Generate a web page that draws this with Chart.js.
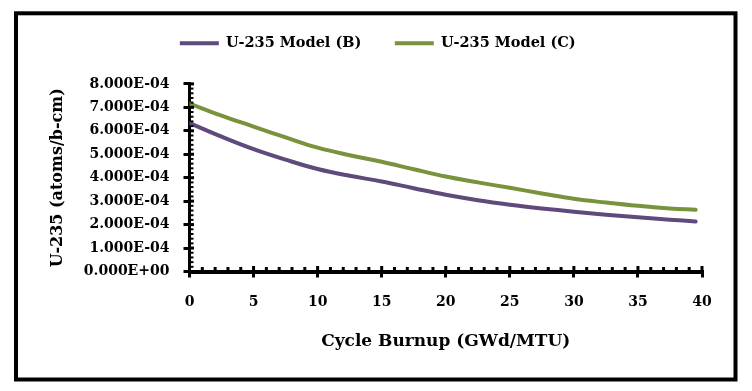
<!DOCTYPE html>
<html>
<head>
<meta charset="utf-8">
<script src="https://cdn.jsdelivr.net/npm/chart.js@4.4.1/dist/chart.umd.min.js"></script>
<style>
  html, body { margin: 0; padding: 0; background: #ffffff; }
  #wrap { width: 752px; height: 391px; position: relative; }
</style>
</head>
<body>
<div id="wrap"><canvas id="c" width="752" height="391"></canvas></div>
<script>
// ---- data ----
const burnup = [0, 2.5, 5, 7.5, 10, 12.5, 15, 17.5, 20, 22.5, 25, 27.5, 30, 32.5, 35, 37.5, 39.5];
const modelB = [6.33e-4, 5.75e-4, 5.22e-4, 4.77e-4, 4.37e-4, 4.08e-4, 3.84e-4, 3.55e-4, 3.27e-4, 3.04e-4, 2.85e-4, 2.69e-4, 2.55e-4, 2.42e-4, 2.31e-4, 2.21e-4, 2.13e-4];
const modelC = [7.16e-4, 6.65e-4, 6.18e-4, 5.72e-4, 5.28e-4, 4.96e-4, 4.68e-4, 4.36e-4, 4.05e-4, 3.80e-4, 3.57e-4, 3.33e-4, 3.10e-4, 2.94e-4, 2.80e-4, 2.69e-4, 2.63e-4];
const seriesNames = ['U-235 Model (B)', 'U-235 Model (C)'];
const yTickLabels = ['0.000E+00', '1.000E-04', '2.000E-04', '3.000E-04', '4.000E-04', '5.000E-04', '6.000E-04', '7.000E-04', '8.000E-04'];
const xTickLabels = ['0', '5', '10', '15', '20', '25', '30', '35', '40'];
const xTitle = 'Cycle Burnup (GWd/MTU)';
const yTitle = 'U-235 (atoms/b-cm)';
const xMinorStep = 1;
const yMinorStep = 0.2e-4;

const FONT = "'DejaVu Serif', 'Liberation Serif', serif";
const colB = '#604A7B';
const colC = '#77933C';

const framePlugin = {
  id: 'frame',
  beforeDraw(chart) {
    const ctx = chart.ctx;
    ctx.save();
    ctx.fillStyle = '#ffffff';
    ctx.fillRect(0, 0, chart.width, chart.height);
    ctx.strokeStyle = '#000000';
    ctx.lineWidth = 4;
    ctx.strokeRect(16, 13.3, 719.5, 366.2);
    ctx.restore();
  }
};

const legendLayout = {
  id: 'legendLayout',
  afterInit(chart) {
    const lg = chart.legend;
    if (lg && !lg._wrappedFit) {
      const orig = lg.fit;
      lg.fit = function () {
        orig.call(this);
        this.height = 81.3;
      };
      lg._wrappedFit = true;
    }
  },
  afterLayout(chart) {
    if (chart.legend) {
      chart.legend.left += 16.75;
      chart.legend.right += 16.75;
    }
  }
};

const minorTicks = {
  id: 'minorTicks',
  afterDraw(chart) {
    const ctx = chart.ctx;
    const x = chart.scales.x, y = chart.scales.y;
    const ca = chart.chartArea;
    ctx.save();
    ctx.fillStyle = '#000000';
    const axR = ca.left + 1.5;
    const ny = Math.round((y.max - y.min) / yMinorStep);
    for (let i = 0; i <= ny; i++) {
      const py = y.getPixelForValue(y.min + i * yMinorStep);
      const major = (i % 5 === 0);
      if (major) ctx.fillRect(axR - 0.5, py - 1.5, 3.5, 3);
      else ctx.fillRect(axR - 0.5, py - 1, 3, 2);
    }
    const axT = ca.bottom - 1.5;
    const nx = Math.round((x.max - x.min) / xMinorStep);
    for (let i = 0; i <= nx; i++) {
      const px = x.getPixelForValue(x.min + i * xMinorStep);
      const major = (i % 5 === 0);
      if (major) ctx.fillRect(px - 1.5, axT - 4, 3, 4.5);
      else ctx.fillRect(px - 1.5, axT - 3, 3, 3.5);
    }
    ctx.restore();
  }
};

const ctx = document.getElementById('c').getContext('2d');
new Chart(ctx, {
  type: 'line',
  data: {
    datasets: [
      {
        label: seriesNames[0],
        data: burnup.map((b, i) => ({ x: b, y: modelB[i] })),
        borderColor: colB,
        backgroundColor: colB,
        borderWidth: 4,
        pointRadius: 0,
        tension: 0.4,
        borderCapStyle: 'round',
        fill: false
      },
      {
        label: seriesNames[1],
        data: burnup.map((b, i) => ({ x: b, y: modelC[i] })),
        borderColor: colC,
        backgroundColor: colC,
        borderWidth: 4,
        pointRadius: 0,
        tension: 0.4,
        borderCapStyle: 'round',
        fill: false
      }
    ]
  },
  options: {
    responsive: false,
    animation: false,
    layout: { padding: { left: 20, right: 50, top: 2.6, bottom: 0 } },
    plugins: {
      tooltip: { enabled: false },
      legend: {
        display: true,
        position: 'top',
        labels: {
          boxWidth: 39,
          boxHeight: 0,
          padding: 33.4,
          color: '#000000',
          font: { family: FONT, weight: 'bold', size: 14.5 }
        }
      }
    },
    scales: {
      x: {
        type: 'linear',
        min: 0,
        max: 40,
        afterFit: (s) => { s.height = 119.5; },
        ticks: {
          stepSize: 5,
          color: '#000000',
          padding: 16,
          maxRotation: 0,
          font: { family: FONT, weight: 'bold', size: 14 },
          callback: (v, i) => xTickLabels[i]
        },
        grid: { drawOnChartArea: false, drawTicks: true, tickLength: 6, color: '#000000', lineWidth: 3 },
        border: { display: true, color: '#000000', width: 4 },
        title: {
          display: true,
          text: xTitle,
          color: '#000000',
          font: { family: FONT, weight: 'bold', size: 17 },
          padding: { top: 0, bottom: 39 }
        }
      },
      y: {
        type: 'linear',
        min: 0,
        max: 8e-4,
        afterFit: (s) => { s.width = 169.5; },
        ticks: {
          stepSize: 1e-4,
          color: '#000000',
          padding: 14,
          font: { family: FONT, weight: 'bold', size: 14 },
          callback: (v, i) => yTickLabels[i]
        },
        grid: { drawOnChartArea: false, drawTicks: true, tickLength: 6, color: '#000000', lineWidth: 3 },
        border: { display: true, color: '#000000', width: 3 },
        title: {
          display: true,
          text: yTitle,
          color: '#000000',
          font: { family: FONT, weight: 'bold', size: 16 },
          padding: { top: 28, bottom: 0 }
        }
      }
    }
  },
  plugins: [framePlugin, legendLayout, minorTicks]
});
</script>
</body>
</html>
